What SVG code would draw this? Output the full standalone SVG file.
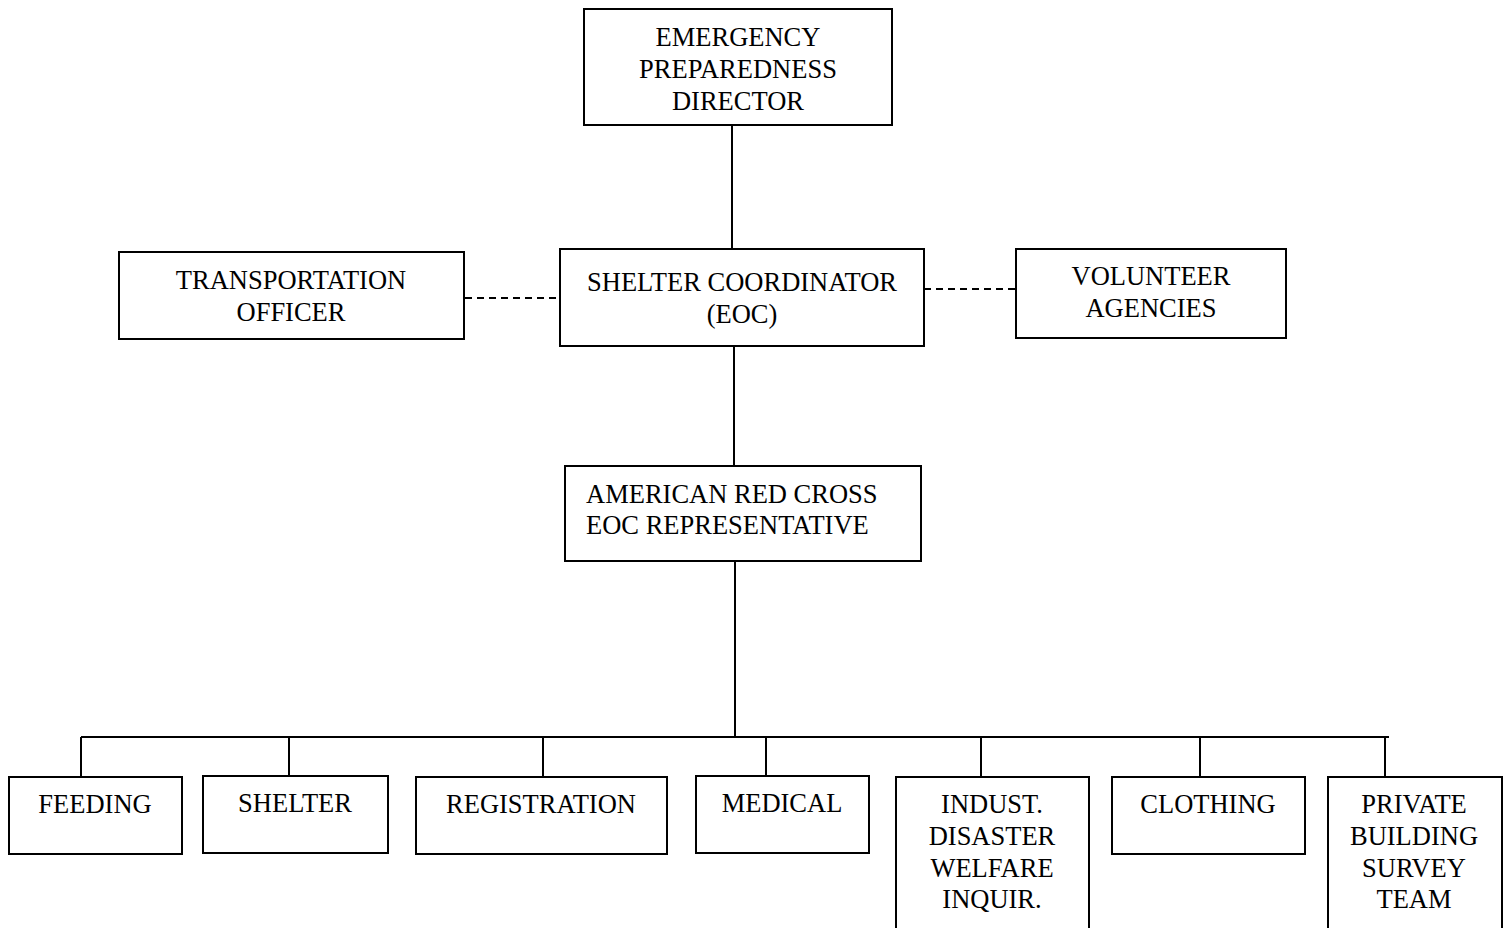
<svg xmlns="http://www.w3.org/2000/svg" width="1509" height="928" viewBox="0 0 1509 928">
  <style>
    .box { fill: #ffffff; stroke: #000000; stroke-width: 2; }
    .line { fill: none; stroke: #000000; stroke-width: 2; }
    .dash { fill: none; stroke: #000000; stroke-width: 2; stroke-dasharray: 7 5; }
    .label { font-family: "Liberation Serif", "Times New Roman", serif; font-size: 26.5px; fill: #000000; text-anchor: middle; }
    .left { text-anchor: start; }
  </style>
  <rect x="0" y="0" width="1509" height="928" fill="#ffffff"/>

  <!-- connectors -->
  <g id="connectors">
    <line class="line" x1="732" y1="125" x2="732" y2="250"/>
    <line class="line" x1="734" y1="346" x2="734" y2="466"/>
    <line class="dash" x1="465" y1="298" x2="560" y2="298"/>
    <line class="dash" x1="924" y1="289" x2="1016" y2="289"/>
    <line class="line" x1="735" y1="561" x2="735" y2="737"/>
    <line class="line" x1="81" y1="737" x2="1389" y2="737"/>
    <line class="line" x1="81" y1="737" x2="81" y2="777"/>
    <line class="line" x1="289" y1="737" x2="289" y2="776"/>
    <line class="line" x1="543" y1="737" x2="543" y2="777"/>
    <line class="line" x1="766" y1="737" x2="766" y2="776"/>
    <line class="line" x1="981" y1="737" x2="981" y2="777"/>
    <line class="line" x1="1200" y1="737" x2="1200" y2="777"/>
    <line class="line" x1="1385" y1="737" x2="1385" y2="777"/>
  </g>

  <!-- top level -->
  <g id="director">
    <rect class="box" x="584" y="9" width="308" height="116"/>
    <text class="label" x="738" y="46">EMERGENCY</text>
    <text class="label" x="738" y="78">PREPAREDNESS</text>
    <text class="label" x="738" y="110">DIRECTOR</text>
  </g>

  <!-- coordination row -->
  <g id="transportation">
    <rect class="box" x="119" y="252" width="345" height="87"/>
    <text class="label" x="291" y="289">TRANSPORTATION</text>
    <text class="label" x="291" y="321">OFFICER</text>
  </g>
  <g id="shelter-coordinator">
    <rect class="box" x="560" y="249" width="364" height="97"/>
    <text class="label" x="742" y="291">SHELTER COORDINATOR</text>
    <text class="label" x="742" y="323">(EOC)</text>
  </g>
  <g id="volunteer">
    <rect class="box" x="1016" y="249" width="270" height="89"/>
    <text class="label" x="1151" y="285">VOLUNTEER</text>
    <text class="label" x="1151" y="317">AGENCIES</text>
  </g>

  <!-- red cross -->
  <g id="red-cross">
    <rect class="box" x="565" y="466" width="356" height="95"/>
    <text class="label left" x="586" y="503">AMERICAN RED CROSS</text>
    <text class="label left" x="586" y="534">EOC REPRESENTATIVE</text>
  </g>

  <!-- functional units -->
  <g id="feeding">
    <rect class="box" x="9" y="777" width="173" height="77"/>
    <text class="label" x="95" y="813">FEEDING</text>
  </g>
  <g id="shelter">
    <rect class="box" x="203" y="776" width="185" height="77"/>
    <text class="label" x="295" y="812">SHELTER</text>
  </g>
  <g id="registration">
    <rect class="box" x="416" y="777" width="251" height="77"/>
    <text class="label" x="541" y="813">REGISTRATION</text>
  </g>
  <g id="medical">
    <rect class="box" x="696" y="776" width="173" height="77"/>
    <text class="label" x="782" y="812">MEDICAL</text>
  </g>
  <g id="welfare">
    <rect class="box" x="896" y="777" width="193" height="160"/>
    <text class="label" x="992" y="813">INDUST.</text>
    <text class="label" x="992" y="845">DISASTER</text>
    <text class="label" x="992" y="877">WELFARE</text>
    <text class="label" x="992" y="908">INQUIR.</text>
  </g>
  <g id="clothing">
    <rect class="box" x="1112" y="777" width="193" height="77"/>
    <text class="label" x="1208" y="813">CLOTHING</text>
  </g>
  <g id="survey">
    <rect class="box" x="1328" y="777" width="174" height="160"/>
    <text class="label" x="1414" y="813">PRIVATE</text>
    <text class="label" x="1414" y="845">BUILDING</text>
    <text class="label" x="1414" y="877">SURVEY</text>
    <text class="label" x="1414" y="908">TEAM</text>
  </g>
</svg>
